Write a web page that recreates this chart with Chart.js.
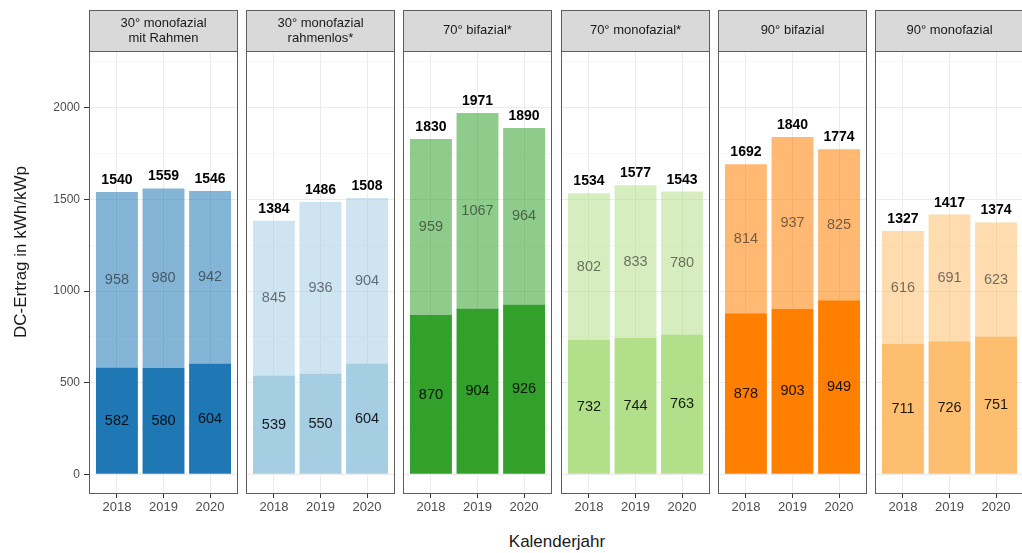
<!DOCTYPE html>
<html>
<head>
<meta charset="utf-8">
<script src="https://cdn.jsdelivr.net/npm/chart.js@4"></script>
<style>
  html, body { margin: 0; padding: 0; background: #fff; overflow: hidden; }
  #wrap { position: relative; width: 1022px; height: 553px; overflow: hidden; font-family: "Liberation Sans", Arial, sans-serif; }
  #wrap canvas { position: absolute; top: 0; }
  #xtitle { position: absolute; top: 532px; left: 557px; transform: translateX(-50%); font-size: 17px; line-height: 20px; color: #1a1a1a; white-space: nowrap; }
</style>
</head>
<body>
<div id="wrap">
  <div id="xtitle">Kalenderjahr</div>
</div>
<script>
// data
const years = [2018, 2019, 2020];
const panelTitles = [
  ["30° monofazial", "mit Rahmen"],
  ["30° monofazial", "rahmenlos*"],
  ["70° bifazial*"],
  ["70° monofazial*"],
  ["90° bifazial"],
  ["90° monofazial"]
];
const lowerValues = [
  [582, 580, 604],
  [539, 550, 604],
  [870, 904, 926],
  [732, 744, 763],
  [878, 903, 949],
  [711, 726, 751]
];
const upperValues = [
  [958, 980, 942],
  [845, 936, 904],
  [959, 1067, 964],
  [802, 833, 780],
  [814, 937, 825],
  [616, 691, 623]
];
const totalValues = [
  [1540, 1559, 1546],
  [1384, 1486, 1508],
  [1830, 1971, 1890],
  [1534, 1577, 1543],
  [1692, 1840, 1774],
  [1327, 1417, 1374]
];
const panelColors = ["#1F78B4", "#A6CEE3", "#33A02C", "#B2DF8A", "#FF7F00", "#FDBF6F"];
const yTicks = [0, 500, 1000, 1500, 2000];
const yMinor = [250, 750, 1250, 1750, 2250];
const yTitle = "DC-Ertrag in kWh/kWp";

Chart.defaults.font.family = '"Liberation Sans", Arial, sans-serif';

const FONT = '"Liberation Sans", Arial, sans-serif';
const stripTop = 10, plotTop = 51, plotBottom = 494, canvasH = 525;
const panelW = 149, panelStep = 157.2, firstLeft = 89, pad = 10;

function withAlpha(hex, a) {
  let r = parseInt(hex.slice(1, 3), 16), g = parseInt(hex.slice(3, 5), 16), b = parseInt(hex.slice(5, 7), 16);
  return `rgba(${r},${g},${b},${a})`;
}

const panelPlugin = {
  id: "panel",
  afterDatasetsDraw(chart) {
    const p = chart.options.plugins.panel;
    const ctx = chart.ctx;
    const xs = chart.scales.x, ys = chart.scales.y;
    ctx.save();
    ctx.textAlign = "center";
    for (let i = 0; i < years.length; i++) {
      let x = xs.getPixelForValue(years[i]);
      let lo = lowerValues[p.idx][i], up = upperValues[p.idx][i];
      ctx.font = "14.5px " + FONT;
      ctx.textBaseline = "middle";
      ctx.fillStyle = "rgba(0,0,0,0.88)";
      ctx.fillText(lo, x, ys.getPixelForValue(lo / 2));
      ctx.fillStyle = "rgba(20,20,20,0.58)";
      ctx.fillText(up, x, ys.getPixelForValue(lo + up / 2));
      ctx.font = "bold 14px " + FONT;
      ctx.textBaseline = "alphabetic";
      ctx.fillStyle = "#000";
      ctx.fillText(totalValues[p.idx][i], x, ys.getPixelForValue(lo + up) - 8);
    }
    ctx.restore();
  },
  afterDraw(chart) {
    const p = chart.options.plugins.panel;
    const ctx = chart.ctx, a = chart.chartArea;
    ctx.save();
    ctx.strokeStyle = "#5e5e5e";
    ctx.lineWidth = 1;
    ctx.strokeRect(a.left + 0.5, a.top + 0.5, a.right - a.left - 1, a.bottom - a.top - 1);
    ctx.fillStyle = "#d9d9d9";
    ctx.fillRect(a.left, stripTop, a.right - a.left, a.top - stripTop);
    ctx.strokeRect(a.left + 0.5, stripTop + 0.5, a.right - a.left - 1, a.top - stripTop);
    ctx.fillStyle = "#1a1a1a";
    ctx.font = "13px " + FONT;
    ctx.textAlign = "center";
    ctx.textBaseline = "middle";
    const lines = panelTitles[p.idx];
    const cx = (a.left + a.right) / 2, cy = (stripTop + a.top) / 2;
    lines.forEach((t, k) => {
      ctx.fillText(t, cx, cy + (k - (lines.length - 1) / 2) * 15);
    });
    if (p.idx === 0) {
      ctx.translate(21, 252);
      ctx.rotate(-Math.PI / 2);
      ctx.font = "17px " + FONT;
      ctx.fillText(yTitle, 0, 0);
    }
    ctx.restore();
  }
};

const wrap = document.getElementById("wrap");

for (let idx = 0; idx < panelTitles.length; idx++) {
  const pl = Math.round(firstLeft + idx * panelStep);
  const first = idx === 0;
  const cLeft = first ? 0 : pl - pad;
  const leftSpace = first ? pl : pad;
  const canvas = document.createElement("canvas");
  canvas.width = leftSpace + panelW + pad;
  canvas.height = canvasH;
  canvas.style.left = cLeft + "px";
  wrap.appendChild(canvas);

  const col = panelColors[idx];
  new Chart(canvas, {
    type: "bar",
    data: {
      datasets: [
        {
          label: "unten",
          data: years.map((y, i) => ({ x: y, y: lowerValues[idx][i] })),
          backgroundColor: col,
          borderWidth: 0
        },
        {
          label: "oben",
          data: years.map((y, i) => ({ x: y, y: upperValues[idx][i] })),
          backgroundColor: withAlpha(col, 0.55),
          borderWidth: 0
        }
      ]
    },
    options: {
      responsive: false,
      animation: false,
      devicePixelRatio: 1,
      barPercentage: 0.9,
      categoryPercentage: 1,
      layout: { padding: { top: plotTop, bottom: canvasH - plotBottom - 25, left: first ? 0 : pad, right: pad } },
      plugins: {
        legend: { display: false },
        tooltip: { enabled: false },
        panel: { idx: idx }
      },
      scales: {
        x: {
          type: "linear",
          stacked: true,
          offset: false,
          min: 2017.4,
          max: 2020.6,
          afterBuildTicks: (s) => { s.ticks = years.map(v => ({ value: v })); },
          afterFit: (s) => { s.height = 25; },
          border: { display: false },
          grid: { offset: false, color: "#ebebeb", tickColor: "#333", tickLength: 4, drawTicks: true },
          ticks: { color: "#4d4d4d", font: { size: 13 }, padding: 2, maxRotation: 0, autoSkip: false, callback: (v) => String(v) }
        },
        y: {
          stacked: true,
          min: -108,
          max: 2310,
          afterBuildTicks: (s) => {
            s.ticks = yTicks.concat(yMinor).sort((a, b) => a - b).map(v => ({ value: v }));
          },
          afterFit: (s) => { s.width = first ? pl : 0; },
          border: { display: false },
          grid: {
            color: (c) => (c.tick && c.tick.value % 500 === 0 ? "#ebebeb" : "#f4f4f4"),
            lineWidth: (c) => (c.tick && c.tick.value % 500 === 0 ? 1 : 0.7),
            tickColor: (c) => (first && c.tick && c.tick.value % 500 === 0 ? "#333" : "rgba(0,0,0,0)"),
            tickLength: 5,
            drawTicks: first
          },
          ticks: {
            display: first,
            color: "#4d4d4d",
            font: { size: 12 },
            padding: 4,
            autoSkip: false,
            callback: (v) => (v % 500 === 0 ? String(v) : "")
          }
        }
      }
    },
    plugins: [panelPlugin]
  });
}
</script>
</body>
</html>
